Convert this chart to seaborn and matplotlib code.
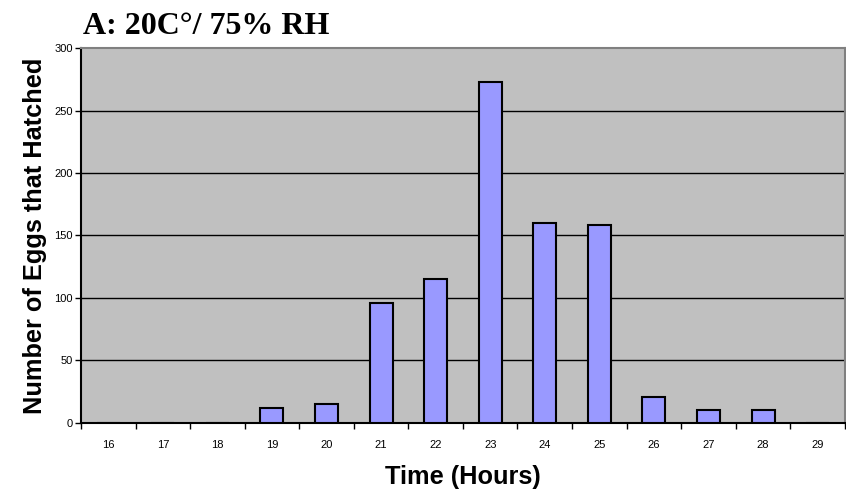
import seaborn as sns
import matplotlib.pyplot as plt
import pandas as pd
import numpy as np

hours = ['16', '17', '18', '19', '20', '21', '22', '23', '24', '25', '26', '27', '28', '29']
hatched = [0, 0, 0, 12, 15, 96, 115, 273, 160, 158, 21, 10, 10, 0]

df = pd.DataFrame({'Hours': hours, 'Hatched': hatched})

sns.set_style('white')
plt.rcParams['font.family'] = ['Liberation Sans', 'DejaVu Sans']
plt.rcParams['text.color'] = 'black'
plt.rcParams['axes.labelcolor'] = 'black'
plt.rcParams['xtick.color'] = 'black'
plt.rcParams['ytick.color'] = 'black'

fig = plt.figure(figsize=(8.46, 4.95), dpi=100)
ax = fig.add_axes([0.0957, 0.1455, 0.903, 0.7575])
ax.set_facecolor('#c0c0c0')

sns.barplot(data=df, x='Hours', y='Hatched', order=hours, color='#9999ff',
            edgecolor='black', linewidth=1.5, width=0.42, saturation=1, ax=ax, zorder=3)

ax.set_xlim(-0.5, len(hours) - 0.5)
ax.set_ylim(0, 300)
ax.set_yticks(range(0, 301, 50))
for v in range(50, 300, 50):
    ax.axhline(v, color='black', linewidth=1, zorder=1)

# ticks between categories
ax.set_xticks(np.arange(-0.5, len(hours), 1), minor=True)
ax.tick_params(axis='x', which='major', length=0, labelsize=8, pad=12)
ax.tick_params(axis='x', which='minor', length=4, width=1, color='black', direction='out')
ax.tick_params(axis='y', length=4, width=1, color='black', direction='out', labelsize=8, pad=2)
ax.xaxis.set_ticks_position('bottom')
ax.yaxis.set_ticks_position('left')

for s in ['left', 'bottom']:
    ax.spines[s].set_color('black')
    ax.spines[s].set_linewidth(1.5)
for s in ['top', 'right']:
    ax.spines[s].set_color('#808080')
    ax.spines[s].set_linewidth(1.5)

ax.set_xlabel('Time (Hours)', fontsize=18.3, fontweight='bold', labelpad=11)
ax.set_ylabel('Number of Eggs that Hatched', fontsize=18.3, fontweight='bold', labelpad=5)

fig.text(0.098, 0.947, 'A: 20C°/ 75% RH', fontsize=23, fontweight='bold',
         family=['Liberation Serif', 'DejaVu Serif'], va='center', ha='left')

fig.savefig('out.png', dpi=100)
